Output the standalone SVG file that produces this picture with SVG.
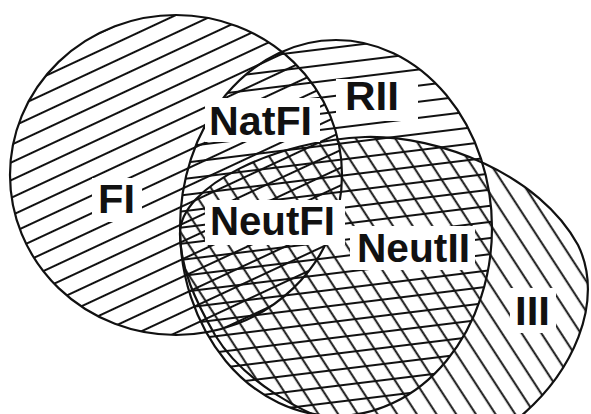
<svg xmlns="http://www.w3.org/2000/svg" width="591" height="414" viewBox="0 0 591 414">
  <style>
    .outline { fill: none; stroke: #111; stroke-width: 2.2; }
    .hatch line { stroke: #111; stroke-width: 2; }
    .box { fill: #fff; stroke: none; }
    .lbl { font-family: "Liberation Sans", Arial, sans-serif; font-weight: bold; font-size: 40px; fill: #111; }
  </style>
  <defs>
    <!-- shallow rising lines -->
    <pattern id="hatchFI" class="hatch" patternUnits="userSpaceOnUse" width="40" height="16" patternTransform="rotate(-25)">
      <line x1="0" y1="8" x2="40" y2="8"/>
    </pattern>
    <!-- near-horizontal lines -->
    <pattern id="hatchRII" class="hatch" patternUnits="userSpaceOnUse" width="40" height="16" patternTransform="rotate(-7)">
      <line x1="0" y1="8" x2="40" y2="8"/>
    </pattern>
    <!-- steep falling lines -->
    <pattern id="hatchIII" class="hatch" patternUnits="userSpaceOnUse" width="40" height="16.5" patternTransform="rotate(57)">
      <line x1="0" y1="8" x2="40" y2="8"/>
    </pattern>
  </defs>

  <rect width="591" height="414" fill="#fff"/>

  <g id="FI">
    <ellipse cx="176" cy="175" rx="166" ry="160" fill="url(#hatchFI)"/>
    <ellipse class="outline" cx="176" cy="175" rx="166" ry="160"/>
  </g>

  <g id="RII">
    <ellipse cx="336" cy="228" rx="156" ry="188" fill="url(#hatchRII)"/>
    <ellipse class="outline" cx="336" cy="228" rx="156" ry="188"/>
  </g>

  <g id="III">
    <path d="M180,235 C178,185 280,140 365,137 C440,135 540,175 578,245 C605,300 575,375 510,425 C440,470 270,425 215,335 C195,300 181,270 180,235 Z" fill="url(#hatchIII)"/>
    <path class="outline" d="M180,235 C178,185 280,140 365,137 C440,135 540,175 578,245 C605,300 575,375 510,425 C440,470 270,425 215,335 C195,300 181,270 180,235 Z"/>
  </g>

  <g id="label-FI">
    <rect class="box" x="92" y="178" width="50" height="44"/>
    <text class="lbl" x="98" y="213" textLength="37" lengthAdjust="spacingAndGlyphs">FI</text>
  </g>
  <g id="label-NatFI">
    <rect class="box" x="205" y="98" width="115" height="44"/>
    <text class="lbl" x="209" y="135" textLength="103" lengthAdjust="spacingAndGlyphs">NatFI</text>
  </g>
  <g id="label-RII">
    <rect class="box" x="336" y="79" width="82" height="42"/>
    <text class="lbl" x="345" y="110" textLength="54" lengthAdjust="spacingAndGlyphs">RII</text>
  </g>
  <g id="label-NeutFI">
    <rect class="box" x="205" y="200" width="140" height="45"/>
    <text class="lbl" x="210" y="235" textLength="125" lengthAdjust="spacingAndGlyphs">NeutFI</text>
  </g>
  <g id="label-NeutII">
    <rect class="box" x="350" y="226" width="125" height="44"/>
    <text class="lbl" x="357" y="262" textLength="113" lengthAdjust="spacingAndGlyphs">NeutII</text>
  </g>
  <g id="label-III">
    <rect class="box" x="510" y="288" width="46" height="45"/>
    <text class="lbl" x="515" y="325" textLength="35" lengthAdjust="spacingAndGlyphs">III</text>
  </g>
</svg>
